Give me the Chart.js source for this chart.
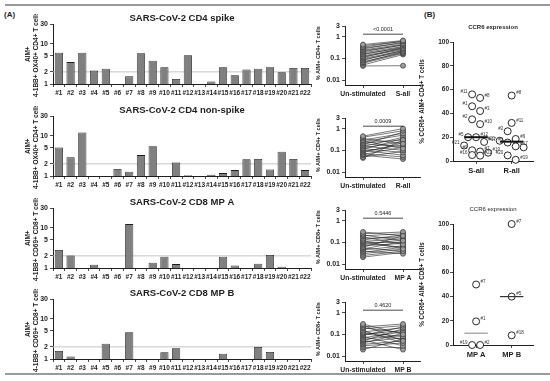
<!DOCTYPE html>
<html>
<head>
<meta charset="utf-8">
<script src="https://cdn.jsdelivr.net/npm/chart.js@4.4.1/dist/chart.umd.min.js"></script>
<style>
body { margin: 0; background: #fff; font-family: "Liberation Sans", Arial, sans-serif; }
#page { position: relative; width: 550px; height: 381px; overflow: hidden; }
canvas { position: absolute; }
.rule { position: absolute; left: 5px; width: 545px; height: 2px; background: #999; }
.tag { position: absolute; font-weight: bold; font-size: 8px; color: #1e1e1e; }
</style>
</head>
<body>
<div id="page">
  <div class="rule" style="top:4px"></div>
  <div class="rule" style="top:373px"></div>
  <div class="tag" style="left:4px;top:10px">(A)</div>
  <div class="tag" style="left:424px;top:10px">(B)</div>
</div>
<script>
// ---- data ----
const donors = ['#1','#2','#3','#4','#5','#6','#7','#8','#9','#10','#11',
                '#12','#13','#14','#15','#16','#17','#18','#19','#20','#21','#22'];

// AIM+ stimulation index per donor (null = no bar)
const cd4Spike    = [6, 3.5, 6, 2.15, 2.4, null, 1.55, 5.8, 3.8, 2.6, 1.33, 5.2, null, 1.16, 2.6, 1.65, 2.3, 2.4, 2.6, 1.95, 2.5, 2.5];
const cd4NonSpike = [5.1, 2.9, 12, null, null, 1.5, 1.28, 3.3, 5.5, null, 2.15, 1.05, null, 1.07, 1.18, 1.4, 2.6, 2.65, 1.45, 4.0, 2.65, 1.4];
const cd8MpA      = [2.8, 2.03, null, 1.2, null, null, 12.3, null, 1.35, 1.9, 1.25, null, null, null, 1.9, 1.15, null, 1.28, 2.1, 1.08, null, null];
const cd8MpB      = [1.58, 1.15, null, null, 2.4, null, 4.6, null, null, 1.47, 1.85, null, null, null, 1.35, null, null, 2.0, 1.5, null, null, null];

// % AIM+ cells, un-stimulated vs stimulated (paired)
const unstimSpike    = [0.43, 0.38, 0.33, 0.30, 0.27, 0.24, 0.22, 0.20, 0.18, 0.16, 0.15, 0.13, 0.12, 0.11, 0.10, 0.09, 0.08, 0.07, 0.065, 0.06, 0.05, 0.045];
const sAll           = [0.66, 0.60, 0.62, 0.50, 0.55, 0.45, 0.40, 0.42, 0.35, 0.30, 0.33, 0.28, 0.25, 0.30, 0.22, 0.20, 0.24, 0.18, 0.20, 0.17, 0.15, 0.046];
const unstimNonSpike = [0.45, 0.40, 0.35, 0.30, 0.28, 0.25, 0.22, 0.20, 0.18, 0.16, 0.15, 0.13, 0.12, 0.11, 0.10, 0.09, 0.08, 0.07, 0.065, 0.06, 0.05, 0.045];
const rAll           = [1.0, 0.8, 0.2, 0.6, 0.12, 0.5, 0.3, 0.15, 0.7, 0.1, 0.4, 0.25, 0.08, 0.35, 0.06, 0.18, 0.22, 0.05, 0.14, 0.04, 0.09, 0.3];
const unstimMpA      = [0.30, 0.25, 0.22, 0.20, 0.18, 0.15, 0.13, 0.12, 0.11, 0.10, 0.09, 0.08, 0.07, 0.06, 0.055, 0.05, 0.045, 0.04, 0.035, 0.03, 0.025, 0.021];
const mpA            = [0.20, 0.30, 0.12, 0.25, 0.08, 0.18, 0.22, 0.05, 0.15, 0.10, 0.06, 0.13, 0.09, 0.20, 0.04, 0.11, 0.07, 0.03, 0.06, 0.05, 0.04, 0.035];
const unstimMpB      = [0.30, 0.26, 0.22, 0.20, 0.18, 0.15, 0.13, 0.12, 0.11, 0.10, 0.09, 0.08, 0.07, 0.06, 0.055, 0.05, 0.045, 0.04, 0.035, 0.03, 0.025, 0.02];
const mpB            = [0.10, 0.05, 0.30, 0.12, 0.25, 0.04, 0.20, 0.08, 0.06, 0.15, 0.22, 0.03, 0.13, 0.09, 0.02, 0.18, 0.07, 0.11, 0.05, 0.04, 0.025, 0.06];
const pValues = ['<0.0001', '0.0009', '0.5446', '0.4620'];

// CCR6 expression (B)
const cd4Groups   = ['S-all', 'R-all'];
const ccr6SAll    = [56, 53, 46, 42, 35, 31, 20, 20, 16, 13, 9, 8, 7, 5, 4.5];
const ccr6SAllIds = ['#11','#8','#1','#3','#2','#10','#5','#12','#17','#21','#9','#7','#19','#16','#22'];
const ccr6RAll    = [55, 32, 25, 18.5, 17, 15.5, 12.3, 11.5, 4.7, 1];
const ccr6RAllIds = ['#8','#11','#2','#9','#21','#1','#17','','#20','#19'];
const cd8Groups   = ['MP A', 'MP B'];
const ccr6MpA     = [50, 19.5, 0, 0];
const ccr6MpAIds  = ['#7','#1','#19','#2'];
const ccr6MpB     = [100, 40, 8];
const ccr6MpBIds  = ['#7','#5','#18'];

// ---- helpers ----
Chart.defaults.font.family = '"Liberation Sans", Arial, sans-serif';
Chart.defaults.color = '#1e1e1e';
const ink = '#1e1e1e';
const page = document.getElementById('page');

function addCanvas(left, top, w, h) {
  const c = document.createElement('canvas');
  c.width = w; c.height = h;
  c.style.left = left + 'px'; c.style.top = top + 'px';
  c.style.width = w + 'px'; c.style.height = h + 'px';
  page.appendChild(c);
  return c;
}

function median(arr) {
  const s = [...arr].sort((a, b) => a - b);
  const m = Math.floor(s.length / 2);
  return s.length % 2 ? s[m] : (s[m - 1] + s[m]) / 2;
}

// spread overlapping points sideways around the group centre
function swarm(values, center, pxPerX, pxPerY, size) {
  const order = values.map((v, i) => i).sort((a, b) => values[b] - values[a]);
  const xs = [];
  let row = [];
  const flush = () => {
    row.forEach((idx, k) => { xs[idx] = center + (k - (row.length - 1) / 2) * size / pxPerX; });
    row = [];
  };
  order.forEach(i => {
    if (row.length && (values[row[0]] - values[i]) * pxPerY >= size) flush();
    row.push(i);
  });
  flush();
  return xs;
}

const axisLook = {
  grid: { drawOnChartArea: false, color: ink, lineWidth: 0.8, tickLength: 3 },
  border: { color: ink, width: 1 }
};

const refLine = {
  id: 'refLine',
  beforeDatasetsDraw(chart) {
    const { ctx, chartArea, scales: { y } } = chart;
    const py = y.getPixelForValue(2);
    ctx.save();
    ctx.strokeStyle = '#c4c4c4';
    ctx.lineWidth = 1;
    ctx.beginPath();
    ctx.moveTo(chartArea.left, py);
    ctx.lineTo(chartArea.right, py);
    ctx.stroke();
    ctx.restore();
  }
};

const sig = {
  id: 'sig',
  afterDatasetsDraw(chart, args, opts) {
    if (!opts.text) return;
    const { ctx, chartArea, scales: { x } } = chart;
    const x0 = x.getPixelForValue(0), x1 = x.getPixelForValue(1);
    const py = chartArea.top + 8;
    ctx.save();
    ctx.strokeStyle = ink;
    ctx.lineWidth = 0.8;
    ctx.beginPath(); ctx.moveTo(x0, py); ctx.lineTo(x1, py); ctx.stroke();
    ctx.font = '5.5px "Liberation Sans"';
    ctx.fillStyle = ink;
    ctx.textAlign = 'center';
    ctx.textBaseline = 'bottom';
    ctx.fillText(opts.text, (x0 + x1) / 2, py - 1.5);
    ctx.restore();
  }
};

const idLabels = {
  id: 'idLabels',
  afterDatasetsDraw(chart) {
    const ctx = chart.ctx;
    ctx.save();
    ctx.font = '4.5px "Liberation Sans"';
    ctx.fillStyle = '#333';
    ctx.textBaseline = 'middle';
    chart.data.datasets.forEach((ds, di) => {
      if (!ds.ids) return;
      const center = chart.scales.x.getPixelForValue(ds.group);
      chart.getDatasetMeta(di).data.forEach((pt, i) => {
        if (!ds.ids[i]) return;
        const left = pt.x < center - 0.5;
        ctx.textAlign = left ? 'right' : 'left';
        ctx.fillText(ds.ids[i], pt.x + (left ? -4.5 : 4.5), pt.y - 2.5);
      });
    });
    ctx.restore();
  }
};

// ---- (A) bar panels ----
function barChart(top, title, values, yTitle) {
  new Chart(addCanvas(0, top, 315, 84), {
    type: 'bar',
    data: { labels: donors, datasets: [{
      data: values, backgroundColor: '#808080', borderColor: ink, borderWidth: 0.8,
      barPercentage: 0.7, categoryPercentage: 1
    }] },
    options: {
      responsive: false, animation: false, events: [],
      layout: { padding: { right: 4 } },
      plugins: {
        legend: { display: false }, tooltip: { enabled: false },
        title: { display: true, text: title, fullSize: false, color: ink,
                 font: { size: 9.5, weight: 'bold', lineHeight: 1 }, padding: { top: 0, bottom: 1 } }
      },
      scales: {
        x: { ...axisLook,
             ticks: { font: { size: 6.5, weight: 'bold' }, autoSkip: false, maxRotation: 0, minRotation: 0, padding: 2 },
             afterFit: s => { s.height = 14; } },
        y: { ...axisLook, type: 'logarithmic', min: 1, max: 30,
             afterBuildTicks: s => { s.ticks = [1, 2, 5, 10, 30].map(v => ({ value: v })); },
             ticks: { font: { size: 7, weight: 'bold' }, padding: 2, callback: v => String(v) },
             title: { display: true, text: yTitle, font: { size: 6.5, weight: 'bold', lineHeight: 1.25 },
                      padding: { top: 24, bottom: 2 } },
             afterFit: s => { s.width = 53; } }
      }
    },
    plugins: [refLine]
  });
}

barChart(14, 'SARS-CoV-2 CD4 spike', cd4Spike, ['AIM+', '4-1BB+ OX40+ CD4+ T cells']);
barChart(105.5, 'SARS-CoV-2 CD4 non-spike', cd4NonSpike, ['AIM+', '4-1BB+ OX40+ CD4+ T cells']);
barChart(197.5, 'SARS-CoV-2 CD8 MP A', cd8MpA, ['AIM+', '4-1BB+ CD69+ CD8+ T cells']);
barChart(288.5, 'SARS-CoV-2 CD8 MP B', cd8MpB, ['AIM+', '4-1BB+ CD69+ CD8+ T cells']);

// ---- (A) paired panels ----
function pairedChart(top, before, after, stimLabel, yTitle, pText) {
  const sets = before.map((b, i) => ({
    data: [{ x: 0, y: b }, { x: 1, y: after[i] }],
    showLine: true, borderColor: '#222', borderWidth: 0.6,
    pointRadius: 2.5, pointBackgroundColor: '#9c9c9c', pointBorderColor: '#333', pointBorderWidth: 0.7
  }));
  new Chart(addCanvas(305, top, 120, 79), {
    type: 'scatter',
    data: { datasets: sets },
    options: {
      responsive: false, animation: false, events: [],
      layout: { padding: { top: 5, right: 5 } },
      plugins: { legend: { display: false }, tooltip: { enabled: false }, sig: { text: pText } },
      scales: {
        x: { ...axisLook, type: 'linear', min: -0.45, max: 1.425,
             afterBuildTicks: s => { s.ticks = [{ value: 0 }, { value: 1 }]; },
             ticks: { font: { size: 6.8, weight: 'bold' }, maxRotation: 0, padding: 2,
                      callback: v => (v === 0 ? 'Un-stimulated' : stimLabel) },
             afterFit: s => { s.height = 14; } },
        y: { ...axisLook, type: 'logarithmic', min: 0.006, max: 3,
             afterBuildTicks: s => { s.ticks = [0.01, 0.1, 1, 3].map(v => ({ value: v })); },
             ticks: { font: { size: 7, weight: 'bold' }, padding: 2, callback: v => String(v) },
             title: { display: true, text: yTitle, align: 'end', font: { size: 5.5, weight: 'bold', lineHeight: 1.2 },
                      padding: { top: 10, bottom: 2 } },
             afterFit: s => { s.width = 40; } }
      }
    },
    plugins: [sig]
  });
}

pairedChart(19.5, unstimSpike, sAll, 'S-all', '% AIM+ CD4+ T cells', pValues[0]);
pairedChart(111.5, unstimNonSpike, rAll, 'R-all', '% AIM+ CD4+ T cells', pValues[1]);
pairedChart(203.5, unstimMpA, mpA, 'MP A', '% AIM+ CD8+ T cells', pValues[2]);
pairedChart(295.5, unstimMpB, mpB, 'MP B', '% AIM+ CD8+ T cells', pValues[3]);

// ---- (B) CCR6 panels ----
function ccr6Chart(top, height, groups, groupData, yTitle, titleWeight, medianLook) {
  const datasets = [];
  groupData.forEach((g, gi) => {
    const xs = swarm(g.vals, gi, 35.6, 1.2, 8);
    datasets.push({
      data: g.vals.map((v, i) => ({ x: xs[i], y: v })), ids: g.ids, group: gi,
      pointRadius: 3.5, pointBackgroundColor: '#fff', pointBorderColor: '#111', pointBorderWidth: 0.9,
      clip: false
    });
    const m = median(g.vals);
    datasets.push({
      data: [{ x: gi - 0.33, y: m }, { x: gi + 0.33, y: m }], showLine: true, pointRadius: 0,
      borderColor: medianLook[gi].color, borderWidth: medianLook[gi].width, order: -1
    });
  });
  new Chart(addCanvas(415, top, 135, height), {
    type: 'scatter',
    data: { datasets },
    options: {
      responsive: false, animation: false, events: [],
      layout: { padding: { right: 17 } },
      plugins: {
        legend: { display: false }, tooltip: { enabled: false },
        title: { display: true, text: 'CCR6 expression', fullSize: false, color: ink,
                 font: { size: 6, weight: titleWeight, lineHeight: 1 }, padding: { top: 0, bottom: 12 } }
      },
      scales: {
        x: { ...axisLook, type: 'linear', min: -0.65, max: 1.6,
             afterBuildTicks: s => { s.ticks = [{ value: 0 }, { value: 1 }]; },
             ticks: { font: { size: 7.5, weight: 'bold' }, maxRotation: 0, padding: 2,
                      callback: v => groups[v] },
             afterFit: s => { s.height = 14; } },
        y: { ...axisLook, min: 0, max: 100,
             ticks: { stepSize: 20, font: { size: 6.5, weight: 'bold' }, padding: 1 },
             title: { display: true, text: yTitle, font: { size: 6.3, weight: 'bold', lineHeight: 1.2 },
                      padding: { top: 3, bottom: 2 } },
             afterFit: s => { s.width = 38; } }
      }
    },
    plugins: [idLabels]
  });
}

ccr6Chart(24, 151, cd4Groups,
  [{ vals: ccr6SAll, ids: ccr6SAllIds }, { vals: ccr6RAll, ids: ccr6RAllIds }],
  '% CCR6+ AIM+ CD4+ T cells', 'bold',
  [{ color: '#111', width: 2 }, { color: '#111', width: 2 }]);

ccr6Chart(206, 153, cd8Groups,
  [{ vals: ccr6MpA, ids: ccr6MpAIds }, { vals: ccr6MpB, ids: ccr6MpBIds }],
  '% CCR6+ AIM+ CD8+ T cells', 'normal',
  [{ color: '#999', width: 1.2 }, { color: '#333', width: 1.2 }]);
</script>
</body>
</html>
